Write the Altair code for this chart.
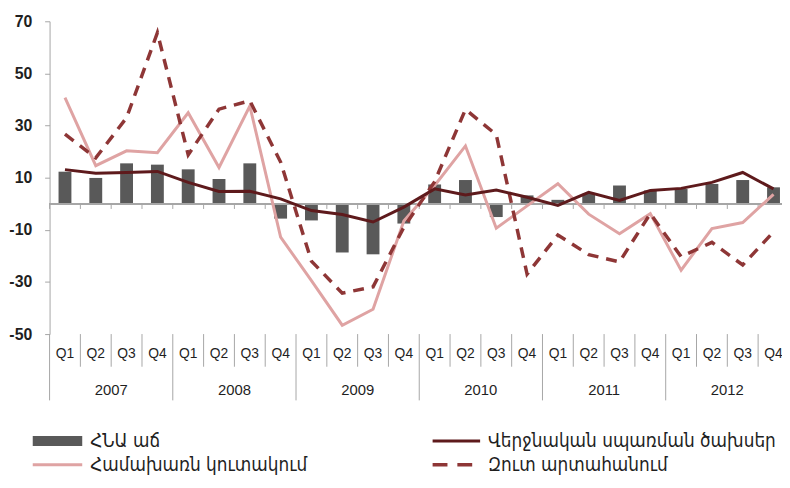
import altair as alt
import pandas as pd

# ---------------- data ----------------
years = ["2007", "2008", "2009", "2010", "2011", "2012"]
quarters = ["Q1", "Q2", "Q3", "Q4"]

gdp_growth = [12.3, 9.9, 15.5, 15.0, 13.2, 9.5, 15.5, -5.7,
              -6.4, -18.7, -19.4, -7.6, 7.4, 9.1, -5.1, 3.2,
              1.5, 3.8, 7.0, 5.1, 5.7, 7.6, 9.1, 6.3]
final_consumption = [13.1, 11.7, 12.0, 12.4, 8.2, 4.7, 4.8, 1.9,
                     -2.6, -4.1, -7.0, -1.3, 5.7, 3.4, 5.3, 2.5,
                     -0.6, 4.4, 1.3, 5.1, 5.9, 8.2, 12.0, 5.7]
gross_investment = [40.7, 14.6, 20.3, 19.6, 34.9, 13.9, 37.5, -12.8,
                    -29.5, -46.6, -40.5, -6.6, 7.0, 22.2, -9.4, -0.8,
                    7.7, -4.0, -11.5, -3.8, -25.5, -9.5, -7.2, 3.6]
net_exports = [26.7, 17.6, 33.0, 65.6, 18.8, 36.3, 39.5, 16.0,
               -22.0, -34.3, -31.9, -9.0, 8.5, 36.2, 26.5, -27.0,
               -12.0, -19.5, -22.3, -3.8, -20.3, -14.8, -23.5, -10.8]

legend_labels = ["ՀՆԱ աճ", "Համախառն կուտակում",
                 "Վերջնական սպառման ծախսեր", "Զուտ արտահանում"]
y_ticks = [70, 50, 30, 10, -10, -30, -50]

# ---------------- table ----------------
cats, qs, ys = [], [], []
for y in years:
    for q in quarters:
        cats.append(f"{y} {q}")
        qs.append(q)
        ys.append(y)

df = pd.DataFrame({
    "cat": cats, "q": qs, "year": ys,
    "gdp": gdp_growth, "cons": final_consumption,
    "inv": gross_investment, "nx": net_exports,
})

# ---------------- styles ----------------
C_BAR = "#595959"
C_CONS = "#5e1a1c"
C_INV = "#dfa3a3"
C_NX = "#8e3636"
C_AXIS = "#a6a6a6"
TXT = "#1f1f1f"
FONT = "Liberation Sans"
LEG_FONT = "DejaVu Sans Condensed, DejaVu Sans"

W, H = 740, 316

xscale = alt.Scale(domain=cats, range=[0, 747], paddingInner=0, paddingOuter=0)
yscale = alt.Scale(domain=[-50, 70], nice=False, zero=False)

X = alt.X("cat:N", sort=cats, scale=xscale, axis=None)
X0 = alt.X("cat:N", sort=cats, scale=xscale, axis=None, bandPosition=0)

base = alt.Chart(df)

bars = base.mark_bar(size=13, color=C_BAR).encode(
    x=X,
    y=alt.Y("gdp:Q", scale=yscale,
            axis=alt.Axis(values=y_ticks, grid=False, title=None,
                          labelExpr="'' + datum.value",
                          domainColor=C_AXIS, tickColor=C_AXIS, tickSize=5,
                          labelFont=FONT, labelFontWeight="bold",
                          labelFontSize=16, labelColor=TXT, labelPadding=13)),
)

zero_line = base.mark_rule(color=C_AXIS, strokeWidth=1).encode(y=alt.datum(0))
zero_ticks = base.mark_rule(color=C_AXIS, strokeWidth=1).encode(
    x=X0, y=alt.datum(0), y2=alt.datum(-2))

inv_line = base.mark_line(color=C_INV, strokeWidth=3).encode(x=X, y=alt.Y("inv:Q", scale=yscale))
nx_line = base.mark_line(color=C_NX, strokeWidth=3.5, strokeDash=[11, 8]).encode(
    x=X, y=alt.Y("nx:Q", scale=yscale))
cons_line = base.mark_line(color=C_CONS, strokeWidth=3).encode(x=X, y=alt.Y("cons:Q", scale=yscale))

# category axis at the bottom
q_labels = base.mark_text(font=FONT, fontSize=14, color=TXT, baseline="middle").encode(
    x=X, y=alt.value(336), text="q:N")
q_seps = base.transform_filter(alt.datum.q != "Q1").mark_rule(color=C_AXIS).encode(
    x=X0, y=alt.value(316), y2=alt.value(349))
y_seps = base.transform_filter(alt.datum.q == "Q1").mark_rule(color=C_AXIS).encode(
    x=X0, y=alt.value(316), y2=alt.value(383))
year_labels = base.transform_filter(alt.datum.q == "Q3").mark_text(
    font=FONT, fontSize=15, color=TXT, baseline="middle").encode(
    x=X0, y=alt.value(373), text="year:N")

# legend
def leg_text(i, x, y):
    d = pd.DataFrame({"label": [legend_labels[i]]})
    return alt.Chart(d).mark_text(font=LEG_FONT, fontSize=19, color=TXT,
                                  align="left", baseline="middle").encode(
        x=alt.value(x), y=alt.value(y), text="label:N")

one = pd.DataFrame({"k": [0]})
leg_bar = alt.Chart(one).mark_rect(color=C_BAR).encode(
    x=alt.value(-17), x2=alt.value(33), y=alt.value(419), y2=alt.value(429))
leg_inv = alt.Chart(one).mark_rule(color=C_INV, strokeWidth=3).encode(
    x=alt.value(-17), x2=alt.value(33), y=alt.value(448))
leg_cons = alt.Chart(one).mark_rule(color=C_CONS, strokeWidth=3).encode(
    x=alt.value(387), x2=alt.value(435), y=alt.value(424))
leg_nx = alt.Chart(one).mark_rule(color=C_NX, strokeWidth=3.5, strokeDash=[15, 10]).encode(
    x=alt.value(387), x2=alt.value(428), y=alt.value(448))

chart = alt.layer(
    bars, zero_line, zero_ticks, inv_line, nx_line, cons_line,
    q_labels, q_seps, y_seps, year_labels,
    leg_bar, leg_inv, leg_cons, leg_nx,
    leg_text(0, 41, 424), leg_text(1, 41, 448),
    leg_text(2, 443, 424), leg_text(3, 443, 448),
).properties(
    width=W, height=H,
    autosize=alt.AutoSizeParams(type="none"),
    padding={"left": 42, "top": 11, "right": 0, "bottom": 145},
    background="white",
).configure_view(stroke=None)

chart.save("out.html", embed_options={"renderer": "svg", "actions": False})
